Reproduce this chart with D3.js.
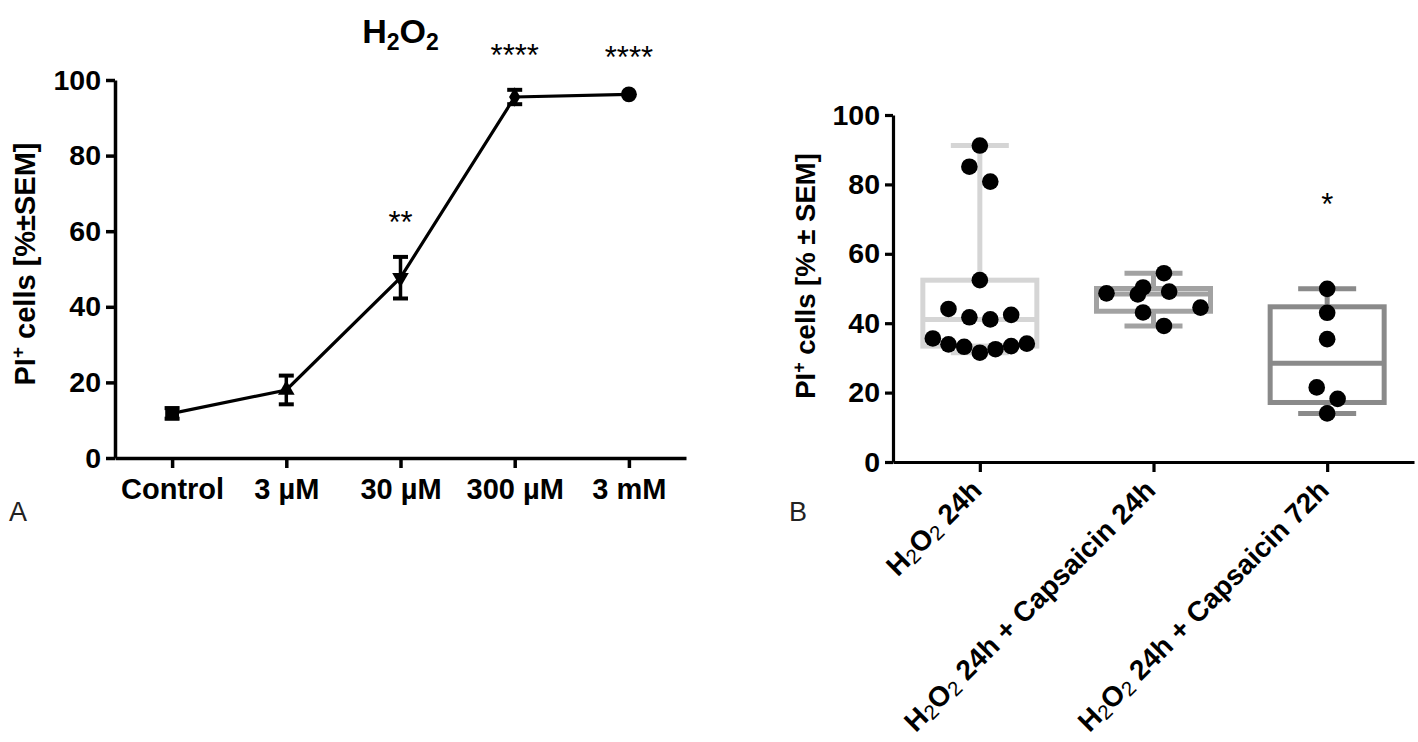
<!DOCTYPE html>
<html><head><meta charset="utf-8">
<script src="https://cdn.jsdelivr.net/npm/d3@7"></script>
<style>
body{margin:0;background:#fff;}
svg{display:block;font-family:"Liberation Sans", Arial, Helvetica, sans-serif;}
</style></head><body>
<svg id="chart" width="1418" height="742"></svg>
<script>
// ---------------- Panel A data ----------------
const concLabels = ["Control", "3 µM", "30 µM", "300 µM", "3 mM"];
const meanPI = [11.8, 18.0, 47.7, 95.5, 96.2];
const semPI = [1.4, 3.8, 5.5, 1.9, 0.6];
const sigA = ["", "", "**", "****", "****"];
const yTicksA = [0, 20, 40, 60, 80, 100];

// ---------------- Panel B data ----------------
const groupLabels = ["H2O2 24h", "H2O2 24h + Capsaicin 24h", "H2O2 24h + Capsaicin 72h"];
const h2o2_24h = [91.2, 85.1, 80.8, 52.4, 44.1, 41.7, 41.1, 42.4, 35.6, 33.9, 33.2, 31.5, 32.5, 33.4, 34.1];
const h2o2_caps24h = [50.3, 54.4, 48.6, 48.3, 49.1, 44.5, 43.1, 39.2];
const h2o2_caps72h = [49.9, 43.0, 35.4, 21.5, 18.2, 14.0];
const sigB = ["", "", "*"];
const yTicksB = [0, 20, 40, 60, 80, 100];

const svg = d3.select("#chart");

function styleAxis(g, sw, fs) {
  g.selectAll("path, line").attr("stroke", "#000").attr("stroke-width", sw);
  g.selectAll("text").attr("fill", "#000").attr("font-size", fs).attr("font-weight", "bold")
    .attr("font-family", '"Liberation Sans", Arial, sans-serif');
}

// ================= Panel A =================
const xA = d3.scalePoint().domain(concLabels).range([115, 686]).padding(0.5);
const yA = d3.scaleLinear().domain([0, 100]).range([458, 80]);
const gA = svg.append("g");

const axAy = gA.append("g").attr("transform", "translate(115,0)")
  .call(d3.axisLeft(yA).tickValues(yTicksA).tickSize(9).tickSizeOuter(0).tickPadding(5));
styleAxis(axAy, 3.5, 28.5);
const axAx = gA.append("g").attr("transform", "translate(0,458)")
  .call(d3.axisBottom(xA).tickSize(10).tickSizeOuter(0).tickPadding(10.5));
styleAxis(axAx, 3.5, 29);

// title H2O2
const title = gA.append("text").attr("x", xA("30 µM")).attr("y", 43)
  .attr("text-anchor", "middle").attr("font-size", 34).attr("font-weight", "bold");
title.append("tspan").text("H");
title.append("tspan").text("2").attr("font-size", 23).attr("dy", 7);
title.append("tspan").text("O").attr("dy", -7);
title.append("tspan").text("2").attr("font-size", 23).attr("dy", 7);

// y label A
const ylA = gA.append("text").attr("transform", "translate(35,264) rotate(-90)")
  .attr("text-anchor", "middle").attr("font-size", 29).attr("font-weight", "bold");
ylA.append("tspan").text("PI");
ylA.append("tspan").text("+").attr("font-size", 19).attr("dy", -11);
ylA.append("tspan").text(" cells [%±SEM]").attr("dy", 11);

// line
const ptsA = concLabels.map((c, i) => ({ c, m: meanPI[i], s: semPI[i], sig: sigA[i], i }));
gA.append("path").datum(ptsA)
  .attr("d", d3.line().x(d => xA(d.c)).y(d => yA(d.m)))
  .attr("fill", "none").attr("stroke", "#000").attr("stroke-width", 3.2);

// error bars
const eb = gA.append("g").selectAll("g").data(ptsA.filter(d => d.s > 0.8)).join("g");
eb.append("line").attr("x1", d => xA(d.c)).attr("x2", d => xA(d.c))
  .attr("y1", d => yA(d.m - d.s)).attr("y2", d => yA(d.m + d.s))
  .attr("stroke", "#000").attr("stroke-width", 3.5);
eb.selectAll("line.cap").data(d => [[d.c, d.m - d.s], [d.c, d.m + d.s]]).join("line")
  .attr("class", "cap")
  .attr("x1", d => xA(d[0]) - 7.5).attr("x2", d => xA(d[0]) + 7.5)
  .attr("y1", d => yA(d[1])).attr("y2", d => yA(d[1]))
  .attr("stroke", "#000").attr("stroke-width", 4);

// markers
const shapes = [
  { t: d3.symbolSquare, size: 190, rot: 0 },
  { t: d3.symbolTriangle, size: 120, rot: 0 },
  { t: d3.symbolTriangle, size: 120, rot: 180 },
  { t: d3.symbolDiamond, size: 110, rot: 0 },
  { t: d3.symbolCircle, size: 200, rot: 0 }
];
gA.append("g").selectAll("path").data(ptsA).join("path")
  .attr("d", d => d3.symbol().type(shapes[d.i].t).size(shapes[d.i].size)())
  .attr("transform", d => `translate(${xA(d.c)},${yA(d.m)}) rotate(${shapes[d.i].rot})`)
  .attr("fill", "#000");

// significance stars A
gA.append("g").selectAll("text").data(ptsA.filter(d => d.sig)).join("text")
  .attr("x", d => xA(d.c)).attr("y", d => yA(d.m + d.s) - 24)
  .attr("text-anchor", "middle").attr("font-size", 31).attr("fill", "#000")
  .text(d => d.sig);

// panel letter
svg.append("text").attr("x", 9).attr("y", 521).attr("font-size", 27).attr("fill", "#222").text("A");

// ================= Panel B =================
const xB = d3.scalePoint().domain(groupLabels).range([893, 1414]).padding(0.5);
const yB = d3.scaleLinear().domain([0, 100]).range([462, 115]);
const gB = svg.append("g");

const axBy = gB.append("g").attr("transform", "translate(893,0)")
  .call(d3.axisLeft(yB).tickValues(yTicksB).tickSize(8).tickSizeOuter(0).tickPadding(5));
styleAxis(axBy, 3.2, 28.5);
const axBx = gB.append("g").attr("transform", "translate(0,462)")
  .call(d3.axisBottom(xB).tickSize(10).tickSizeOuter(0));
styleAxis(axBx, 3.2, 28);
axBx.selectAll(".tick text").each(function (d) {
  const t = d3.select(this);
  t.text(null).attr("y", 0).attr("dy", 0).attr("text-anchor", "end")
    .attr("transform", "translate(3,30) rotate(-45)");
  const rest = d.replace(/^H2O2/, "");
  t.append("tspan").text("H");
  t.append("tspan").text("2").attr("font-weight", "normal").attr("font-size", 20.5).attr("dy", 3);
  t.append("tspan").text("O").attr("dy", -3);
  t.append("tspan").text("2").attr("font-weight", "normal").attr("font-size", 20.5).attr("dy", 3);
  t.append("tspan").text(rest).attr("dy", -3);
});

// y label B
const ylB = gB.append("text").attr("transform", "translate(815,276) rotate(-90)")
  .attr("text-anchor", "middle").attr("font-size", 27.5).attr("font-weight", "bold");
ylB.append("tspan").text("PI");
ylB.append("tspan").text("+").attr("font-size", 18).attr("dy", -10);
ylB.append("tspan").text(" cells [% ± SEM]").attr("dy", 10);

// Prism-style quantile ((n+1)p)
function pq(sorted, p) {
  const n = sorted.length, h = (n + 1) * p;
  if (h <= 1) return sorted[0];
  if (h >= n) return sorted[n - 1];
  const lo = Math.floor(h);
  return sorted[lo - 1] + (h - lo) * (sorted[lo] - sorted[lo - 1]);
}

// row-based scatter layout
const dotR = 8.3;
function swarm(values, cx, ys, unit, maxW, collide) {
  const pts = values.map((v, i) => ({ v, i, y: ys(v), x: 0 }));
  const order = pts.slice().sort((a, b) => a.y - b.y);
  const rows = []; let cur = null;
  order.forEach(p => {
    if (cur && p.y - cur[0].y < 2 * dotR) cur.push(p);
    else { cur = [p]; rows.push(cur); }
  });
  const placed = [];
  rows.forEach(row => {
    row.sort((a, b) => a.i - b.i);
    const n = row.length;
    let mult = 2; const stepM = n % 2 ? 1 : 2;
    let offs = row.map(() => 0);
    for (let it = 0; it < 8; it++) {
      let s = mult * unit; let capped = false;
      if (n > 1 && s * (n - 1) > maxW) { s = maxW / (n - 1); capped = true; }
      offs = row.map((p, k) => (k - (n - 1) / 2) * s);
      const clash = row.some((p, k) => Math.abs(offs[k]) > 0.01 &&
        placed.some(q => Math.hypot(q.x - offs[k], q.y - p.y) < collide));
      if (!clash || capped) break;
      mult += stepM;
    }
    row.forEach((p, k) => { p.x = offs[k]; placed.push(p); });
  });
  return pts.map(p => ({ v: p.v, x: cx + p.x, y: p.y }));
}

const groups = [
  { name: groupLabels[0], vals: h2o2_24h, color: "#d5d5d5", sig: sigB[0] },
  { name: groupLabels[1], vals: h2o2_caps24h, color: "#a2a2a2", sig: sigB[1] },
  { name: groupLabels[2], vals: h2o2_caps72h, color: "#8a8a8a", sig: sigB[2] }
];
const boxW = 114, capW = 58, bsw = 5;
groups.forEach(g => {
  const s = g.vals.slice().sort(d3.ascending);
  const q1 = pq(s, 0.25), med = d3.median(s), q3 = pq(s, 0.75);
  const mn = s[0], mx = s[s.length - 1];
  const cx = xB(g.name);
  const gg = gB.append("g");
  gg.append("rect").attr("x", cx - boxW / 2).attr("width", boxW)
    .attr("y", yB(q3)).attr("height", yB(q1) - yB(q3))
    .attr("fill", "none").attr("stroke", g.color).attr("stroke-width", bsw);
  gg.append("line").attr("x1", cx - boxW / 2).attr("x2", cx + boxW / 2)
    .attr("y1", yB(med)).attr("y2", yB(med)).attr("stroke", g.color).attr("stroke-width", bsw);
  [[q3, mx], [q1, mn]].forEach(([a, b]) => {
    gg.append("line").attr("x1", cx).attr("x2", cx).attr("y1", yB(a)).attr("y2", yB(b))
      .attr("stroke", g.color).attr("stroke-width", bsw);
    gg.append("line").attr("x1", cx - capW / 2).attr("x2", cx + capW / 2)
      .attr("y1", yB(b)).attr("y2", yB(b)).attr("stroke", g.color).attr("stroke-width", bsw);
  });
  const dots = swarm(g.vals, cx, yB, 10.45, 94, 17.2);
  gg.selectAll("circle").data(dots).join("circle")
    .attr("cx", d => d.x).attr("cy", d => d.y).attr("r", dotR).attr("fill", "#000");
  if (g.sig) {
    gg.append("text").attr("x", cx).attr("y", yB(mx) - 74).attr("text-anchor", "middle")
      .attr("font-size", 31).attr("fill", "#000").text(g.sig);
  }
});

svg.append("text").attr("x", 789).attr("y", 521).attr("font-size", 27).attr("fill", "#222").text("B");
</script>
</body></html>
